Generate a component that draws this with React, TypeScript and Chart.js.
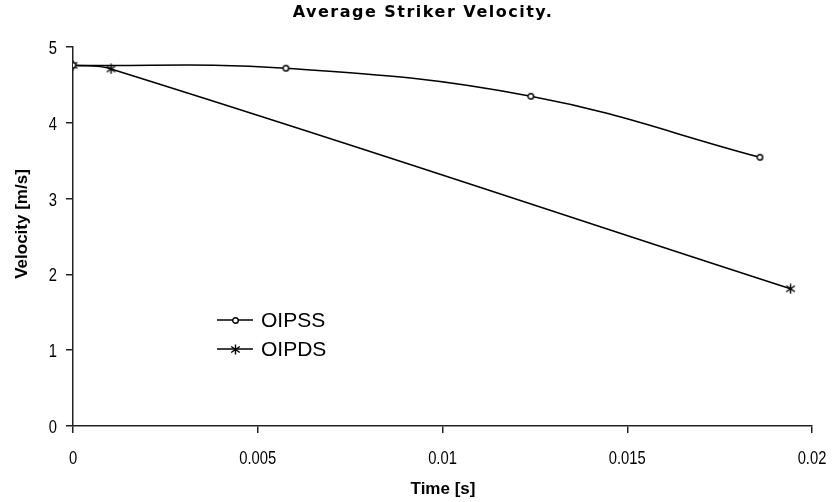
import React, { useEffect, useRef } from "react";
import { Chart, registerables } from "chart.js";

Chart.register(...registerables);

const chartTitle = "Average Striker Velocity.";
const xAxisTitle = "Time [s]";
const yAxisTitle = "Velocity [m/s]";

const oipssLabel = "OIPSS";
const oipssTime = [0, 0.00576, 0.01239, 0.01859];
const oipssVelocity = [4.76, 4.72, 4.35, 3.545];

const oipdsLabel = "OIPDS";
const oipdsTime = [0, 0.00103, 0.01942];
const oipdsVelocity = [4.76, 4.71, 1.81];

const xTickValues = [0, 0.005, 0.01, 0.015, 0.02];
const xTickLabels = ["0", "0.005", "0.01", "0.015", "0.02"];
const yTickValues = [0, 1, 2, 3, 4, 5];
const yTickLabels = ["0", "1", "2", "3", "4", "5"];

function makeAsterisk(): HTMLCanvasElement {
  const c = document.createElement("canvas");
  c.width = 11;
  c.height = 11;
  const g = c.getContext("2d")!;
  g.strokeStyle = "#000";
  g.lineWidth = 1.4;
  g.beginPath();
  g.moveTo(5.5, 0.5);
  g.lineTo(5.5, 10.5);
  g.moveTo(1.2, 2.5);
  g.lineTo(9.8, 8.5);
  g.moveTo(1.2, 8.5);
  g.lineTo(9.8, 2.5);
  g.stroke();
  return c;
}

function makeCircle(): HTMLCanvasElement {
  const c = document.createElement("canvas");
  c.width = 9;
  c.height = 9;
  const g = c.getContext("2d")!;
  g.fillStyle = "#fff";
  g.strokeStyle = "#000";
  g.lineWidth = 1.4;
  g.beginPath();
  g.arc(4.5, 4.5, 2.8, 0, Math.PI * 2);
  g.fill();
  g.stroke();
  return c;
}

function narrowText(ctx: CanvasRenderingContext2D, text: string, x: number, y: number, sx: number) {
  ctx.save();
  ctx.translate(x, y);
  ctx.scale(sx, 1);
  ctx.fillText(text, 0, 0);
  ctx.restore();
}

export default function App() {
  const ref = useRef<HTMLCanvasElement | null>(null);

  useEffect(() => {
    document.body.style.margin = "0";
    const canvas = ref.current;
    if (!canvas) return;
    const asterisk = makeAsterisk();
    const circle = makeCircle();

    const textPlugin = {
      id: "textPlugin",
      afterDraw(chart: any) {
        const ctx = chart.ctx as CanvasRenderingContext2D;
        const xs = chart.scales.x;
        const ys = chart.scales.y;
        ctx.save();
        ctx.fillStyle = "#000";
        // tick labels
        ctx.font = "18px 'Liberation Sans', Arial, sans-serif";
        ctx.textBaseline = "middle";
        ctx.textAlign = "center";
        xTickValues.forEach((v, i) => {
          narrowText(ctx, xTickLabels[i], xs.getPixelForValue(v), 459, 0.82);
        });
        ctx.textAlign = "right";
        yTickValues.forEach((v, i) => {
          narrowText(ctx, yTickLabels[i], 57, ys.getPixelForValue(v) + 2, 0.82);
        });
        // title
        ctx.font = "bold 16px 'DejaVu Sans', sans-serif";
        (ctx as any).letterSpacing = "1.5px";
        ctx.textAlign = "center";
        ctx.textBaseline = "alphabetic";
        ctx.fillText(chartTitle, 423, 17);
        (ctx as any).letterSpacing = "0px";
        // x axis title
        ctx.font = "bold 17px 'Liberation Sans', Arial, sans-serif";
        ctx.textBaseline = "middle";
        ctx.fillText(xAxisTitle, 443, 489);
        // y axis title
        ctx.save();
        ctx.translate(22, 224);
        ctx.rotate(-Math.PI / 2);
        ctx.fillText(yAxisTitle, 0, 0);
        ctx.restore();
        // legend
        const items = [
          { label: oipssLabel, img: circle, y: 320 },
          { label: oipdsLabel, img: asterisk, y: 349 },
        ];
        ctx.font = "21px 'Liberation Sans', Arial, sans-serif";
        ctx.textAlign = "left";
        ctx.textBaseline = "middle";
        for (const it of items) {
          ctx.strokeStyle = "#000";
          ctx.lineWidth = 1.5;
          ctx.beginPath();
          ctx.moveTo(217, it.y);
          ctx.lineTo(253, it.y);
          ctx.stroke();
          ctx.drawImage(it.img, Math.round(235 - it.img.width / 2), Math.round(it.y - it.img.height / 2));
          ctx.fillText(it.label, 261, it.y + 1);
        }
        ctx.restore();
      },
    };

    const chart = new Chart(canvas, {
      type: "scatter",
      data: {
        datasets: [
          {
            label: oipssLabel,
            data: oipssTime.map((t, i) => ({ x: t, y: oipssVelocity[i] })),
            showLine: true,
            borderColor: "#000",
            borderWidth: 1.5,
            tension: 0.4,
            pointStyle: circle as any,
            pointRadius: 4,
            backgroundColor: "#fff",
          },
          {
            label: oipdsLabel,
            data: oipdsTime.map((t, i) => ({ x: t, y: oipdsVelocity[i] })),
            showLine: true,
            borderColor: "#000",
            borderWidth: 1.5,
            tension: 0.4,
            pointStyle: asterisk as any,
            pointRadius: 5,
            backgroundColor: "#000",
          },
        ],
      },
      options: {
        responsive: false,
        animation: false,
        devicePixelRatio: 1,
        layout: { padding: { top: 47, right: 26, left: 0, bottom: 0 } },
        plugins: {
          legend: { display: false },
          title: { display: false },
          tooltip: { enabled: false },
        },
        scales: {
          x: {
            type: "linear",
            min: 0,
            max: 0.02,
            afterFit: (s: any) => {
              s.height = 76;
            },
            afterBuildTicks: (s: any) => {
              s.ticks = xTickValues.map((v) => ({ value: v }));
            },
            ticks: { display: false },
            grid: {
              drawOnChartArea: false,
              drawTicks: true,
              tickLength: 7,
              color: "#222",
              lineWidth: 1.5,
            },
            border: { display: true, color: "#222", width: 1.5 },
          },
          y: {
            type: "linear",
            min: 0,
            max: 5,
            afterFit: (s: any) => {
              s.width = 73;
            },
            afterBuildTicks: (s: any) => {
              s.ticks = yTickValues.map((v) => ({ value: v }));
            },
            ticks: { display: false },
            grid: {
              drawOnChartArea: false,
              drawTicks: true,
              tickLength: 7,
              color: "#222",
              lineWidth: 1.5,
            },
            border: { display: true, color: "#222", width: 1.5 },
          },
        },
      },
      plugins: [textPlugin],
    });

    return () => chart.destroy();
  }, []);

  return (
    <div style={{ width: 838, height: 502, background: "#fff" }}>
      <canvas ref={ref} width={838} height={502} style={{ display: "block" }} />
    </div>
  );
}
